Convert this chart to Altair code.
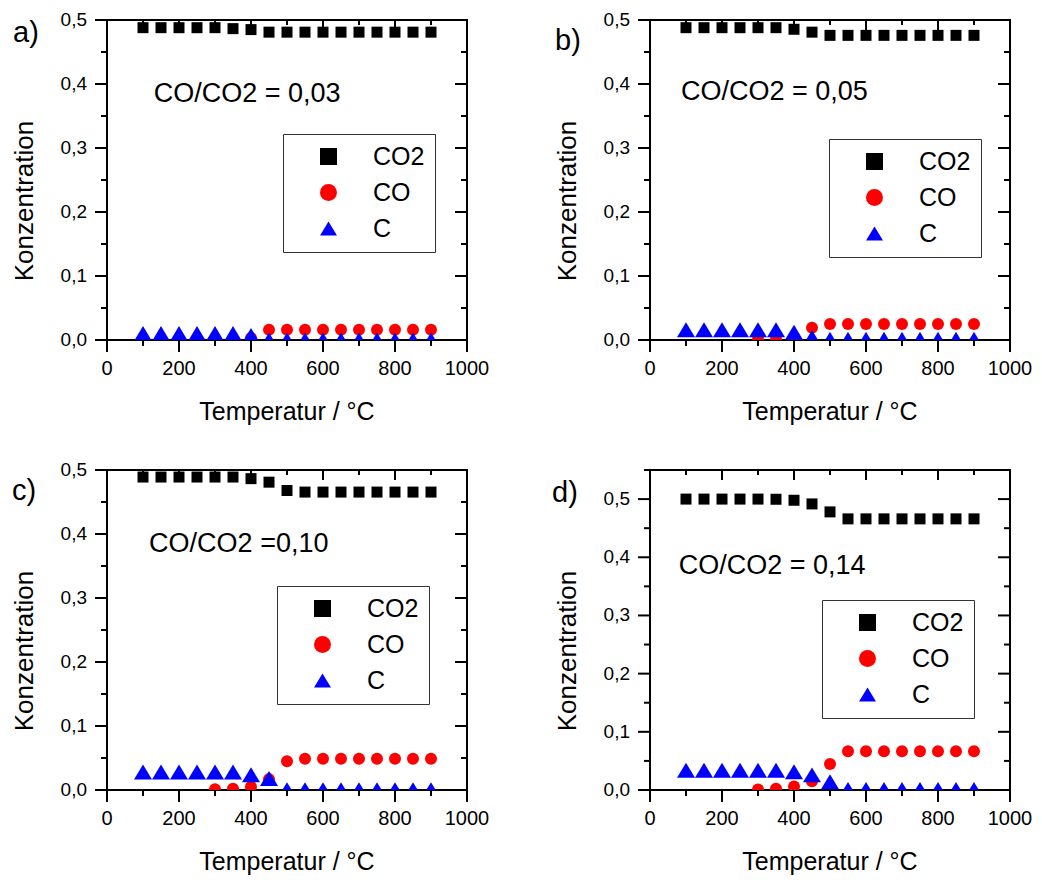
import altair as alt
import pandas as pd

FONT = "Liberation Sans"

# ---------------- data ----------------
TEMPS = [100, 150, 200, 250, 300, 350, 400, 450, 500, 550, 600, 650, 700, 750, 800, 850, 900]
SERIES = ["CO2", "CO", "C"]
SERIES_COLORS = ["#000000", "#ff0000", "#0000ff"]
SERIES_SHAPES = ["square", "circle", "M0,-0.833L1,0.833L-1,0.833Z"]
SERIES_SIZES = [121, 144, 324]

PANEL_LABELS = ["a)", "b)", "c)", "d)"]
RATIO_LABELS = ["CO/CO2 = 0,03", "CO/CO2 = 0,05", "CO/CO2 =0,10", "CO/CO2 = 0,14"]
X_TITLE = "Temperatur / °C"
Y_TITLE = "Konzentration"
Y_MAX = [0.5, 0.5, 0.5, 0.55]

X_MAJOR = [0, 200, 400, 600, 800, 1000]
X_MINOR = [100, 300, 500, 700, 900]
Y_MAJOR = [0.0, 0.1, 0.2, 0.3, 0.4, 0.5]
Y_MINOR_050 = [0.05, 0.15, 0.25, 0.35, 0.45]
Y_MINOR_055 = [0.05, 0.15, 0.25, 0.35, 0.45, 0.55]

# panel a) CO/CO2 = 0,03
CO2_A = [0.488, 0.488, 0.488, 0.488, 0.488, 0.4865, 0.485, 0.481, 0.481, 0.481, 0.481, 0.481, 0.481, 0.481, 0.481, 0.481, 0.481]
CO_A = [None, None, None, None, None, None, 0.003, 0.016, 0.016, 0.016, 0.016, 0.016, 0.016, 0.016, 0.016, 0.016, 0.016]
C_A = [0.010, 0.010, 0.010, 0.010, 0.010, 0.010, 0.007, 0.0, 0.0, 0.0, 0.0, 0.0, 0.0, 0.0, 0.0, 0.0, 0.0]

# panel b) CO/CO2 = 0,05
CO2_B = [0.488, 0.488, 0.488, 0.488, 0.488, 0.488, 0.4855, 0.481, 0.476, 0.476, 0.476, 0.476, 0.476, 0.476, 0.476, 0.476, 0.476]
CO_B = [None, None, None, None, 0.001, 0.001, 0.003, 0.019, 0.025, 0.025, 0.025, 0.025, 0.025, 0.025, 0.025, 0.025, 0.025]
C_B = [0.016, 0.016, 0.016, 0.016, 0.016, 0.016, 0.012, 0.004, 0.001, 0.001, 0.001, 0.001, 0.001, 0.001, 0.001, 0.001, 0.001]

# panel c) CO/CO2 = 0,10
CO2_C = [0.489, 0.489, 0.489, 0.489, 0.489, 0.489, 0.4865, 0.481, 0.468, 0.4655, 0.4655, 0.4655, 0.4655, 0.4655, 0.4655, 0.4655, 0.4655]
CO_C = [None, None, None, None, 0.001, 0.002, 0.005, 0.017, 0.045, 0.049, 0.049, 0.049, 0.049, 0.049, 0.049, 0.049, 0.049]
C_C = [0.028, 0.028, 0.028, 0.028, 0.028, 0.028, 0.024, 0.018, 0.0005, 0.0005, 0.0005, 0.0005, 0.0005, 0.0005, 0.0005, 0.0005, 0.0005]

# panel d) CO/CO2 = 0,14
CO2_D = [0.5, 0.5, 0.5, 0.5, 0.5, 0.4997, 0.498, 0.4917, 0.478, 0.466, 0.466, 0.466, 0.466, 0.466, 0.466, 0.466, 0.466]
CO_D = [None, None, None, None, 0.001, 0.002, 0.006, 0.015, 0.0447, 0.0665, 0.0665, 0.0665, 0.0665, 0.0665, 0.0665, 0.0665, 0.0665]
C_D = [0.0338, 0.0338, 0.0338, 0.0338, 0.0338, 0.0338, 0.0315, 0.026, 0.0143, 0.001, 0.001, 0.001, 0.001, 0.001, 0.001, 0.001, 0.001]

PANEL_DATA = [(CO2_A, CO_A, C_A), (CO2_B, CO_B, C_B), (CO2_C, CO_C, C_C), (CO2_D, CO_D, C_D)]

# ---------------- placement of decorations ----------------
PLOT_W, PLOT_H = 360, 320
ANNOT_X = [130, 86, 117, 80]          # data units (°C)
ANNOT_Y = [0.384, 0.3875, 0.384, 0.3845]
LABEL_X = [-94, -95, -95, -98]        # px from plot origin
LABEL_Y = [13, 21, 21, 23]
LEGEND_X = [176, 179, 170, 172]
LEGEND_Y = [114, 119, 116, 130]
MAJOR_LEN, MINOR_LEN, INNER_MAJOR, INNER_MINOR, LINE_W = 12, 6, 10, 5, 2


def make_panel(i):
    co2, co, c = PANEL_DATA[i]
    rows = []
    for name, vals in zip(SERIES, (co2, co, c)):
        for t, v in zip(TEMPS, vals):
            if v is not None:
                rows.append({"T": t, "series": name, "conc": v})
    df = pd.DataFrame(rows)

    y_minor = Y_MINOR_055 if Y_MAX[i] > 0.5 else Y_MINOR_050
    xs = alt.Scale(domain=[0, 1000], nice=False, zero=False)
    ys = alt.Scale(domain=[0, Y_MAX[i]], nice=False, zero=False)

    legend = alt.Legend(
        orient="none", legendX=LEGEND_X[i], legendY=LEGEND_Y[i], title=None,
        strokeColor="#333333", fillColor="white", padding=10, rowPadding=10,
        labelFontSize=25, labelFont=FONT, labelColor="black",
        symbolSize=289, symbolStrokeWidth=0, symbolOffset=23, labelOffset=32,
        labelExpr="datum.label + '\u00a0\u00a0\u00a0'", cornerRadius=0,
    )
    color = alt.Color("series:N", scale=alt.Scale(domain=SERIES, range=SERIES_COLORS), legend=legend)
    shape = alt.Shape("series:N", scale=alt.Scale(domain=SERIES, range=SERIES_SHAPES), legend=legend)

    layers = []

    # frame (filled thin bars along the four edges)
    half = LINE_W / 2
    for (x1, x2, y1, y2) in [(-half, PLOT_W + half, -half, half),
                             (-half, PLOT_W + half, PLOT_H - half, PLOT_H + half),
                             (-half, half, -half, PLOT_H + half),
                             (PLOT_W - half, PLOT_W + half, -half, PLOT_H + half)]:
        layers.append(
            alt.Chart(pd.DataFrame({"k": [0]})).mark_rect(color="black", opacity=1).encode(
                x=alt.value(x1), x2=alt.value(x2), y=alt.value(y1), y2=alt.value(y2)
            )
        )

    # tick marks on all four sides (outward left/bottom, inward top/right)
    def xtick(values, y_center, length):
        return alt.Chart(pd.DataFrame({"v": values})).mark_tick(
            orient="vertical", thickness=LINE_W, size=length, color="black", opacity=1
        ).encode(x=alt.X("v:Q", scale=xs, axis=None), y=alt.value(y_center))

    def ytick(values, x_center, length):
        return alt.Chart(pd.DataFrame({"v": values})).mark_tick(
            orient="horizontal", thickness=LINE_W, size=length, color="black", opacity=1
        ).encode(y=alt.Y("v:Q", scale=ys, axis=None), x=alt.value(x_center))

    layers += [
        xtick(X_MAJOR, PLOT_H + MAJOR_LEN / 2, MAJOR_LEN),
        xtick(X_MINOR, PLOT_H + MINOR_LEN / 2, MINOR_LEN),
        xtick(X_MAJOR, INNER_MAJOR / 2, INNER_MAJOR),
        xtick(X_MINOR, INNER_MINOR / 2, INNER_MINOR),
        ytick(Y_MAJOR, -MAJOR_LEN / 2, MAJOR_LEN),
        ytick(y_minor, -MINOR_LEN / 2, MINOR_LEN),
        ytick(Y_MAJOR, PLOT_W - MAJOR_LEN / 2, MAJOR_LEN),
        ytick(y_minor, PLOT_W - MINOR_LEN / 2, MINOR_LEN),
    ]

    # data points
    for k, name in enumerate(SERIES):
        sub = df[df["series"] == name]
        layers.append(
            alt.Chart(sub).mark_point(
                filled=True, opacity=1, strokeWidth=0, clip=True, size=SERIES_SIZES[k]
            ).encode(
                x=alt.X("T:Q", scale=xs, axis=None),
                y=alt.Y("conc:Q", scale=ys, axis=None),
                color=color, shape=shape,
            )
        )

    # tick labels (positioned through the scales)
    layers.append(
        alt.Chart(pd.DataFrame({"v": X_MAJOR})).mark_text(
            align="center", baseline="middle", fontSize=20, font=FONT, color="black"
        ).encode(
            x=alt.X("v:Q", scale=xs, axis=None), y=alt.value(PLOT_H + 29),
            text=alt.Text("v:Q", format="d"),
        )
    )
    layers.append(
        alt.Chart(pd.DataFrame({"v": Y_MAJOR})).transform_calculate(
            lbl="replace(format(datum.v, '.1f'), '.', ',')"
        ).mark_text(
            align="right", baseline="middle", fontSize=19, font=FONT, color="black"
        ).encode(
            y=alt.Y("v:Q", scale=ys, axis=None), x=alt.value(-20),
            text="lbl:N",
        )
    )

    # axis titles
    layers.append(
        alt.Chart(pd.DataFrame({"t": [X_TITLE]})).mark_text(
            align="center", baseline="middle", fontSize=25, font=FONT, color="black"
        ).encode(x=alt.value(PLOT_W / 2), y=alt.value(PLOT_H + 72), text="t:N")
    )
    layers.append(
        alt.Chart(pd.DataFrame({"t": [Y_TITLE]})).mark_text(
            align="center", baseline="middle", fontSize=26, font=FONT, color="black", angle=270
        ).encode(x=alt.value(-82), y=alt.value(PLOT_H / 2 + 21), text="t:N")
    )

    # ratio annotation
    ann_df = pd.DataFrame({"x": [ANNOT_X[i]], "y": [ANNOT_Y[i]], "t": [RATIO_LABELS[i]]})
    layers.append(
        alt.Chart(ann_df).mark_text(
            align="left", baseline="middle", fontSize=27, font=FONT, color="black"
        ).encode(
            x=alt.X("x:Q", scale=xs, axis=None),
            y=alt.Y("y:Q", scale=ys, axis=None),
            text="t:N",
        )
    )

    # panel label
    lab_df = pd.DataFrame({"t": [PANEL_LABELS[i]]})
    layers.append(
        alt.Chart(lab_df).mark_text(
            align="left", baseline="middle", fontSize=29, font=FONT, color="black"
        ).encode(
            x=alt.value(LABEL_X[i]), y=alt.value(LABEL_Y[i]), text="t:N"
        )
    )

    return alt.layer(*layers).properties(width=PLOT_W, height=PLOT_H)


chart = alt.concat(
    *[make_panel(i) for i in range(4)],
    columns=2,
    spacing={"row": 130, "column": 183},
    bounds="flush",
    padding={"left": 12, "top": 11, "right": 5, "bottom": 5},
    background="white",
).resolve_scale(
    color="independent", shape="independent"
).resolve_legend(
    color="independent", shape="independent"
).configure_view(
    stroke=None
)

chart.save("out.html", embed_options={"renderer": "svg", "actions": False})
